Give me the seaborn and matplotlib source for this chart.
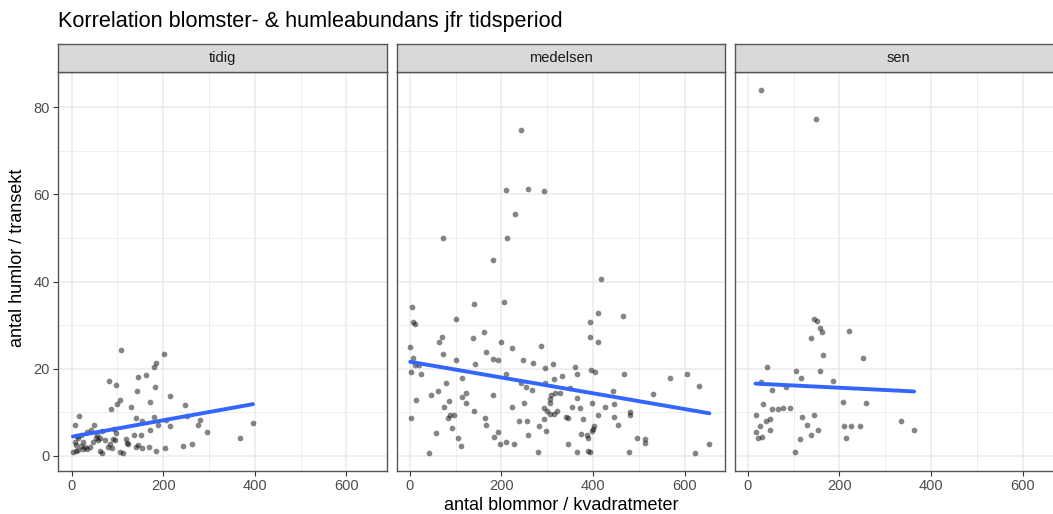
import matplotlib
matplotlib.use("Agg")
import matplotlib.pyplot as plt
from matplotlib.ticker import MultipleLocator
import numpy as np
import pandas as pd
import seaborn as sns

# Blossoms per square metre (x) and bumblebees per transect (y), per season period
tidig_x = [107, 201, 184, 180, 163, 145, 82, 98, 183, 143, 215, 106, 172, 100, 247, 129, 86, 17, 141,
           180, 205, 252, 281, 153, 7, 189, 215, 276, 396, 50, 42, 93, 66, 172, 296, 20, 136, 151, 97,
           11, 53, 62, 73, 367, 7, 26, 91, 95, 119, 121, 124, 84, 262, 244, 141, 145, 169, 204, 79, 20,
           30, 40, 89, 153, 184, 3, 9, 62, 67, 105, 113, 34, 13, 55,
           14, 24, 33, 10, 47, 58]
tidig_y = [24.2, 23.4, 21.3, 20.4, 18.6, 18.0, 17.1, 16.3, 15.8, 14.8, 13.8, 12.8, 12.3, 11.8, 11.7, 11.2,
           10.8, 9.1, 8.7, 9.0, 8.2, 9.2, 8.2, 7.9, 7.2, 7.2, 6.9, 7.0, 7.5, 7.0, 6.0, 6.2, 5.8, 6.0, 5.5,
           4.9, 4.9, 4.8, 5.2, 4.5, 4.2, 4.1, 3.6, 4.2, 3.1, 3.2, 3.8, 3.6, 3.8, 3.0, 2.8, 2.7, 2.8, 2.2,
           2.1, 2.4, 2.1, 1.8, 2.0, 2.2, 2.0, 2.0, 1.7, 1.7, 1.2, 0.9, 1.2, 1.1, 0.6, 0.9, 0.7, 5.5, 4.0, 4.8,
           1.4, 1.6, 1.5, 2.6, 3.2, 3.6]

medelsen_x = [243, 211, 259, 292, 229, 72, 213, 181, 418, 4, 141, 205, 8, 12, 101, 411, 466, 394, 162,
              393, 410, 71, 63, 139, 200, 1, 223, 286, 167, 73, 6, 101, 182, 192, 247, 269, 142, 312,
              11, 21, 296, 361, 3, 25, 209, 366, 395, 404, 467, 568, 605, 114, 315, 333, 79, 296, 243,
              254, 267, 350, 631, 47, 61, 123, 115, 182, 309, 318, 328, 307, 444, 531, 14, 86, 123, 249,
              365, 397, 445, 74, 141, 223, 305, 294, 299, 354, 371, 426, 480, 481, 87, 97, 83, 165, 307,
              314, 321, 342, 345, 379, 411, 446, 3, 293, 239, 256, 166, 92, 281, 402, 454, 399, 397, 58,
              192, 297, 259, 374, 386, 389, 106, 184, 496, 513, 513, 112, 197, 211, 227, 345, 654, 41,
              279, 365, 390, 394, 479, 623]
medelsen_y = [74.8, 61.1, 61.3, 60.8, 55.6, 50.0, 50.0, 44.9, 40.7, 34.2, 34.8, 35.4, 30.8, 30.2, 31.5,
              32.8, 32.2, 30.8, 28.5, 27.3, 26.1, 27.2, 26.1, 27.0, 26.1, 25.1, 24.8, 25.2, 23.8, 23.4,
              22.5, 21.9, 22.2, 22.0, 22.0, 21.3, 21.2, 21.2, 20.8, 20.8, 20.2, 20.3, 19.2, 18.9, 18.8,
              18.8, 19.6, 19.2, 18.9, 17.8, 18.9, 17.9, 17.7, 18.3, 16.8, 16.8, 16.8, 15.9, 15.2, 15.6,
              16.1, 13.9, 14.8, 14.5, 13.5, 13.9, 13.9, 14.4, 14.4, 13.1, 14.8, 14.2, 12.8, 12.6, 12.2,
              12.1, 13.2, 12.2, 11.9, 11.3, 10.3, 11.2, 12.2, 11.0, 10.2, 11.2, 10.9, 11.2, 10.0, 9.3,
              9.3, 9.3, 8.8, 8.8, 9.6, 9.5, 10.2, 9.0, 8.7, 8.5, 9.3, 8.9, 8.6, 8.5, 7.9, 8.1, 7.2, 6.5,
              6.8, 6.9, 7.0, 6.2, 5.6, 5.3, 5.5, 5.7, 4.8, 5.1, 4.9, 4.2, 4.1, 4.3, 4.1, 3.8, 3.0, 2.2,
              2.8, 3.1, 2.8, 2.7, 2.8, 0.7, 0.8, 0.8, 1.1, 0.9, 0.9, 0.7]

sen_x = [28, 148, 144, 150, 157, 163, 137, 220, 164, 252, 42, 105, 157, 116, 187, 28, 83, 53, 207, 259,
         33, 53, 67, 76, 93, 17, 118, 145, 40, 49, 26, 129, 209, 225, 244, 335, 48, 153, 17, 138, 363,
         23, 31, 214, 113, 103]
sen_y = [84.0, 77.3, 31.5, 31.0, 29.3, 28.4, 27.0, 28.6, 23.2, 22.4, 20.5, 19.5, 19.5, 17.9, 17.2, 16.9,
         15.8, 15.2, 12.4, 12.2, 12.0, 10.8, 10.8, 11.0, 11.0, 9.3, 9.0, 9.3, 8.1, 8.4, 6.8, 7.0, 6.8,
         6.8, 6.8, 8.0, 5.9, 6.0, 5.4, 4.8, 6.0, 4.0, 4.3, 4.0, 3.8, 0.9]

periods = ["tidig", "medelsen", "sen"]
x_ticks = [0, 200, 400, 600]
y_ticks = [0, 20, 40, 60, 80]

df = pd.concat([
    pd.DataFrame({"blommor": tidig_x, "humlor": tidig_y, "period": "tidig"}),
    pd.DataFrame({"blommor": medelsen_x, "humlor": medelsen_y, "period": "medelsen"}),
    pd.DataFrame({"blommor": sen_x, "humlor": sen_y, "period": "sen"}),
], ignore_index=True)

sns.set_theme(style="white")
plt.rcParams["font.family"] = ["Liberation Sans", "DejaVu Sans"]

W, H = 1053, 514
fig = plt.figure(figsize=(W / 100, H / 100), dpi=100)

# panel geometry in pixels (left, width) and vertical extents
lefts = [58.3, 396.5, 734.5]
pw = 328.5
top_strip, strip_bottom, panel_bottom = 44.0, 72.0, 470.7

grid_col = "#EBEBEB"
border_col = "#555555"

for i, (period, left) in enumerate(zip(periods, lefts)):
    ax = fig.add_axes([left / W, 1 - panel_bottom / H, pw / W, (panel_bottom - strip_bottom) / H])
    sub = df[df["period"] == period]
    sns.regplot(data=sub, x="blommor", y="humlor", ax=ax, ci=None, truncate=True,
                scatter_kws=dict(s=17, color="black", alpha=0.48, linewidths=0),
                line_kws=dict(color="#3366FF", lw=2.8))
    ax.set_xlim(-29, 688)
    ax.set_ylim(-3.4, 88.1)
    ax.xaxis.set_minor_locator(MultipleLocator(100))
    ax.yaxis.set_minor_locator(MultipleLocator(10))
    ax.set_xticks(x_ticks)
    ax.set_yticks(y_ticks)
    ax.grid(True, which="major", color=grid_col, lw=1.1)
    ax.grid(True, which="minor", color=grid_col, lw=0.6)
    ax.set_axisbelow(True)
    for sp in ax.spines.values():
        sp.set_color(border_col)
        sp.set_linewidth(1.0)
    ax.tick_params(axis="both", which="major", length=3.5, width=0.8, color="#333333",
                   labelsize=10.5, labelcolor="#4D4D4D", pad=2.5, bottom=True, left=(i == 0))
    ax.tick_params(axis="both", which="minor", length=0)
    ax.set_xlabel("")
    ax.set_ylabel("")
    if i > 0:
        ax.set_yticklabels([])

    # facet strip
    sax = fig.add_axes([left / W, 1 - strip_bottom / H, pw / W, (strip_bottom - top_strip) / H])
    sax.set_facecolor("#D9D9D9")
    sax.set_xticks([])
    sax.set_yticks([])
    for sp in sax.spines.values():
        sp.set_color(border_col)
        sp.set_linewidth(1.0)
    sax.text(0.5, 0.5, period, ha="center", va="center", fontsize=10.5, color="#1A1A1A",
             transform=sax.transAxes)

fig.text(58 / W, 1 - 22 / H, "Korrelation blomster- & humleabundans jfr tidsperiod",
         ha="left", va="center", fontsize=15.6, color="black")
fig.text(561 / W, 1 - 505 / H, "antal blommor / kvadratmeter",
         ha="center", va="center", fontsize=13, color="black")
fig.text(18 / W, 1 - 258 / H, "antal humlor / transekt", rotation=90,
         ha="center", va="center", fontsize=13, color="black")

fig.savefig("out.png", dpi=100)
